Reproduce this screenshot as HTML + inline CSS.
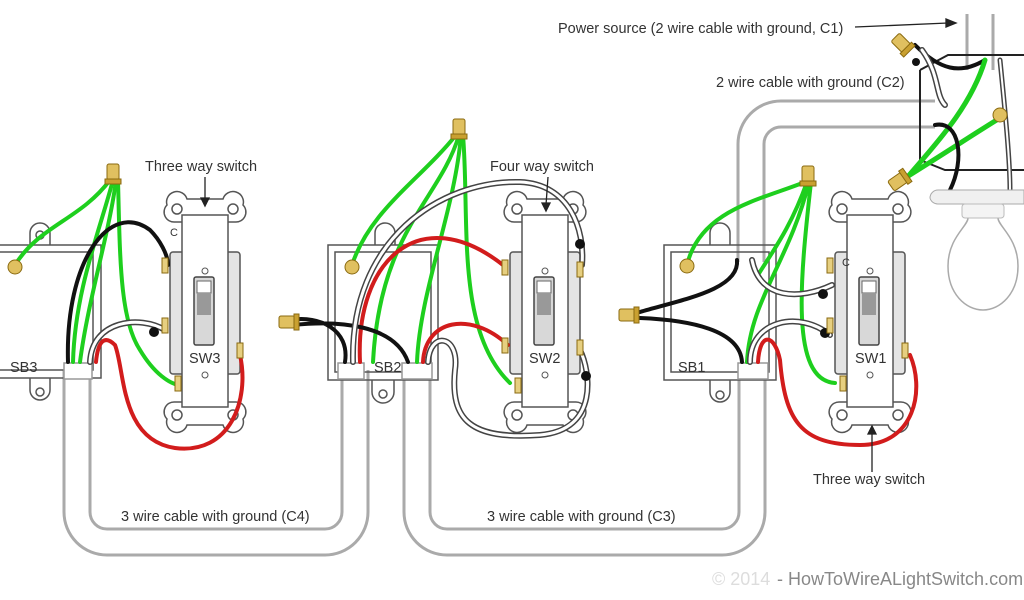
<!DOCTYPE html>
<html><head><meta charset="utf-8"><style>
html,body{margin:0;padding:0;background:#fff}
svg{display:block}
text{font-family:"Liberation Sans",sans-serif;fill:#333}
</style></head><body>
<svg width="1024" height="600" viewBox="0 0 1024 600" xmlns="http://www.w3.org/2000/svg">
<defs>
<g id="sw">
  <path d="M2,8 a10,10 0 0 1 20,-6 h36 a10,10 0 0 1 20,6 a10,10 0 0 1 -8,17 h-60 a10,10 0 0 1 -8,-17z" fill="#fff" stroke="#555" stroke-width="1.5"/>
  <circle cx="12" cy="12" r="5" fill="#fff" stroke="#555" stroke-width="1.5"/>
  <circle cx="68" cy="12" r="5" fill="#fff" stroke="#555" stroke-width="1.5"/>
  <path d="M2,222 a10,10 0 0 0 20,6 h36 a10,10 0 0 0 20,-6 a10,10 0 0 0 -8,-17 h-60 a10,10 0 0 0 -8,17z" fill="#fff" stroke="#555" stroke-width="1.5"/>
  <circle cx="12" cy="218" r="5" fill="#fff" stroke="#555" stroke-width="1.5"/>
  <circle cx="68" cy="218" r="5" fill="#fff" stroke="#555" stroke-width="1.5"/>
  <rect x="5" y="55" width="70" height="122" rx="3" fill="#e4e4e4" stroke="#555" stroke-width="1.5"/>
  <rect x="17" y="18" width="46" height="192" fill="#fff" stroke="#555" stroke-width="1.5"/>
  <circle cx="40" cy="74" r="3" fill="#fff" stroke="#555"/>
  <circle cx="40" cy="178" r="3" fill="#fff" stroke="#555"/>
  <rect x="29" y="80" width="20" height="68" rx="2" fill="#d8d8d8" stroke="#444" stroke-width="1.5"/>
  <rect x="32" y="84" width="14" height="12" fill="#fff" stroke="#666"/>
  <rect x="32" y="96" width="14" height="22" fill="#999"/>
</g>
<g id="nut"><rect x="-6" y="-11" width="12" height="16" rx="2" fill="#e0c060" stroke="#8a6a10"/><rect x="-8" y="4" width="16" height="5" fill="#c9a030" stroke="#8a6a10"/></g>
</defs>

<!-- cables -->
<g fill="none" stroke-linejoin="round">
  <path d="M77,370 V512 a30,30 0 0 0 30,30 H325 a30,30 0 0 0 30,-30 V370" stroke="#aaa" stroke-width="29"/>
  <path d="M77,370 V512 a30,30 0 0 0 30,30 H325 a30,30 0 0 0 30,-30 V370" stroke="#fff" stroke-width="23"/>
  <path d="M417,370 V512 a30,30 0 0 0 30,30 H722 a30,30 0 0 0 30,-30 V370" stroke="#aaa" stroke-width="29"/>
  <path d="M417,370 V512 a30,30 0 0 0 30,30 H722 a30,30 0 0 0 30,-30 V370" stroke="#fff" stroke-width="23"/>
  <path d="M751,262 V144 a30,30 0 0 1 30,-30 H935" stroke="#aaa" stroke-width="29"/>
  <path d="M751,262 V144 a30,30 0 0 1 30,-30 H935" stroke="#fff" stroke-width="23"/>
  <path d="M980,14 V70" stroke="#aaa" stroke-width="29"/>
  <path d="M980,14 V70" stroke="#fff" stroke-width="23"/>
</g>

<!-- boxes -->
<g fill="none" stroke="#555" stroke-width="1.5">
  <path d="M30,245 v-12 a10,10 0 0 1 20,0 v12" fill="#fff"/>
  <path d="M30,378 v12 a10,10 0 0 0 20,0 v-12" fill="#fff"/><circle cx="40" cy="392" r="4"/><circle cx="40" cy="235" r="4"/>
  <rect x="-5" y="245" width="106" height="133"/><rect x="-5" y="252" width="98" height="118"/>
  <path d="M375,245 v-12 a10,10 0 0 1 20,0 v12" fill="#fff"/>
  <path d="M372,380 v12 a11,11 0 0 0 22,0 v-12" fill="#fff"/><circle cx="383" cy="394" r="4"/>
  <rect x="328" y="245" width="110" height="135"/><rect x="335" y="252" width="96" height="120"/>
  <path d="M710,245 v-12 a10,10 0 0 1 20,0 v12" fill="#fff"/>
  <path d="M710,380 v12 a10,10 0 0 0 20,0 v-12" fill="#fff"/><circle cx="720" cy="395" r="4"/>
  <rect x="664" y="245" width="112" height="135"/><rect x="671" y="252" width="98" height="120"/>
  <path d="M920,70 L948,55 H1024 M920,70 V160 L945,170 H1024" stroke="#222" stroke-width="2"/>
</g>
<g fill="#fff" stroke="#999" stroke-width="1.5">
  <rect x="64" y="363" width="28" height="16"/><rect x="338" y="363" width="26" height="16"/><rect x="402" y="363" width="30" height="16"/><rect x="738" y="363" width="30" height="16"/>
</g>

<!-- switches -->
<use href="#sw" x="165" y="197"/>
<use href="#sw" x="505" y="197"/>
<use href="#sw" x="830" y="197"/>

<!-- wires -->
<g fill="none" stroke-linecap="round" stroke-width="4">
  <path d="M110,180 C80,220 40,225 15,265" stroke="#1ecf1e"/>
  <path d="M113,180 C100,230 75,290 73,362" stroke="#1ecf1e"/>
  <path d="M116,180 C110,230 88,300 80,362" stroke="#1ecf1e"/>
  <path d="M118,180 C120,260 120,320 140,350 C155,375 170,383 178,385" stroke="#1ecf1e"/>
  <path d="M68,362 C65,260 110,200 150,230 C160,240 168,255 168,265" stroke="#111"/>
  <path d="M90,362 C92,320 140,315 165,330" stroke="#444" stroke-width="6"/>
  <path d="M90,362 C92,320 140,315 165,330" stroke="#fff" stroke-width="3"/>
  <path d="M96,362 C98,340 105,335 115,345 C125,370 120,440 175,448 C230,455 250,400 240,355" stroke="#d21c1c"/>
  <path d="M456,135 C420,180 370,210 352,265" stroke="#1ecf1e"/>
  <path d="M459,135 C440,200 380,230 373,362" stroke="#1ecf1e"/>
  <path d="M461,135 C455,210 420,290 417,362" stroke="#1ecf1e"/>
  <path d="M463,135 C470,220 455,330 510,383" stroke="#1ecf1e"/>
  <path d="M360,362 C355,260 420,200 503,265" stroke="#d21c1c"/>
  <path d="M423,362 C425,320 470,310 508,345" stroke="#d21c1c"/>
  <path d="M290,320 C320,315 350,330 345,362 M293,325 C340,320 395,325 408,362" stroke="#111"/>
  <path d="M353,362 C350,240 440,180 520,182 C570,184 585,230 582,265" stroke="#444" stroke-width="6"/>
  <path d="M353,362 C350,240 440,180 520,182 C570,184 585,230 582,265" stroke="#fff" stroke-width="3"/>
  <path d="M428,362 C430,330 460,335 455,370 C450,420 470,440 540,435 C600,430 590,370 580,350" stroke="#444" stroke-width="6"/>
  <path d="M428,362 C430,330 460,335 455,370 C450,420 470,440 540,435 C600,430 590,370 580,350" stroke="#fff" stroke-width="3"/>
  <path d="M805,182 C760,200 700,210 687,265" stroke="#1ecf1e"/>
  <path d="M807,182 C790,230 770,255 758,275" stroke="#1ecf1e"/>
  <path d="M809,182 C790,260 750,300 747,362" stroke="#1ecf1e"/>
  <path d="M811,182 C800,280 790,380 835,383" stroke="#1ecf1e"/>
  <path d="M640,312 C680,300 740,290 737,260 M640,318 C690,320 740,330 742,362" stroke="#111"/>
  <path d="M752,260 C760,300 800,300 832,285" stroke="#444" stroke-width="6"/>
  <path d="M752,260 C760,300 800,300 832,285" stroke="#fff" stroke-width="3"/>
  <path d="M750,362 C750,320 800,310 830,335" stroke="#444" stroke-width="6"/>
  <path d="M750,362 C750,320 800,310 830,335" stroke="#fff" stroke-width="3"/>
  <path d="M758,362 C760,330 775,335 780,360 C785,420 800,445 860,445 C915,445 925,390 910,355" stroke="#d21c1c"/>
  <path d="M915,45 C940,70 960,75 985,60" stroke="#111"/>
  <path d="M922,50 C940,75 935,95 945,105" stroke="#444" stroke-width="6"/>
  <path d="M922,50 C940,75 935,95 945,105" stroke="#fff" stroke-width="3"/>
  <path d="M985,60 C970,110 930,150 905,180" stroke="#1ecf1e" stroke-width="5"/>
  <path d="M905,178 C950,150 980,130 1000,118" stroke="#1ecf1e" stroke-width="5"/>
  <path d="M935,125 C960,120 965,160 950,190" stroke="#111"/>
  <path d="M1000,60 C1005,110 1010,160 1010,190" stroke="#444" stroke-width="5"/>
  <path d="M1000,60 C1005,110 1010,160 1010,190" stroke="#fff" stroke-width="2"/>
</g>
<g fill="#111"><circle cx="154" cy="332" r="5"/><circle cx="580" cy="244" r="5"/><circle cx="586" cy="376" r="5"/><circle cx="823" cy="294" r="5"/><circle cx="825" cy="333" r="5"/><circle cx="916" cy="62" r="4"/></g>

<g fill="#e6cf80" stroke="#8a6a10">
  <rect x="162" y="258" width="6" height="15"/><rect x="162" y="318" width="6" height="15"/><rect x="175" y="376" width="6" height="15"/><rect x="237" y="343" width="6" height="15"/>
  <rect x="502" y="260" width="6" height="15"/><rect x="502" y="338" width="6" height="15"/><rect x="515" y="378" width="6" height="15"/><rect x="577" y="262" width="6" height="15"/><rect x="577" y="340" width="6" height="15"/>
  <rect x="827" y="258" width="6" height="15"/><rect x="827" y="318" width="6" height="15"/><rect x="840" y="376" width="6" height="15"/><rect x="902" y="343" width="6" height="15"/>
</g>
<g fill="#e0c060" stroke="#8a6a10"><circle cx="15" cy="267" r="7"/><circle cx="352" cy="267" r="7"/><circle cx="687" cy="266" r="7"/><circle cx="1000" cy="115" r="7"/></g>
<use href="#nut" x="113" y="175"/>
<use href="#nut" x="459" y="130"/>
<use href="#nut" x="808" y="177"/>
<use href="#nut" transform="translate(290,322) rotate(-90)"/>
<use href="#nut" transform="translate(630,315) rotate(-90)"/>
<use href="#nut" transform="translate(903,45) rotate(-45)"/>
<use href="#nut" transform="translate(900,180) rotate(-125)"/>

<!-- lamp -->
<path d="M968,202 h30 v16 c0,8 20,20 20,48 c0,28 -18,44 -35,44 c-17,0 -35,-16 -35,-44 c0,-28 20,-40 20,-48z" fill="#fff" stroke="#aaa" stroke-width="1.5"/>
<path d="M930,198 a8,8 0 0 1 8,-8 h86 v14 h-86 a8,8 0 0 1 -8,-6z" fill="#f0f0f0" stroke="#aaa"/>
<rect x="962" y="204" width="42" height="14" rx="3" fill="#f4f4f4" stroke="#bbb"/>

<g font-size="14.5">
  <text x="145" y="171">Three way switch</text>
  <text x="490" y="171">Four way switch</text>
  <text x="558" y="33">Power source (2 wire cable with ground, C1)</text>
  <text x="716" y="87">2 wire cable with ground (C2)</text>
  <text x="10" y="372">SB3</text><text x="374" y="372">SB2</text><text x="678" y="372">SB1</text>
  <text x="189" y="363">SW3</text><text x="529" y="363">SW2</text><text x="855" y="363">SW1</text>
  <text x="121" y="521">3 wire cable with ground (C4)</text>
  <text x="487" y="521">3 wire cable with ground (C3)</text>
  <text x="813" y="484">Three way switch</text>
  <text x="170" y="236" font-size="11">C</text><text x="842" y="266" font-size="11">C</text>
  <text x="712" y="585" font-size="18" style="fill:#ddd">© 2014</text>
  <text x="777" y="585" font-size="18" style="fill:#888">- HowToWireALightSwitch.com</text>
</g>
<g stroke="#222" stroke-width="1.3" fill="#222">
  <line x1="205" y1="177" x2="205" y2="200"/><path d="M201,198 h8 l-4,8z"/>
  <line x1="548" y1="177" x2="546" y2="205"/><path d="M542,203 h8 l-4,8z"/>
  <line x1="855" y1="27" x2="948" y2="23"/><path d="M946,19 l10,4 l-10,4z"/>
  <line x1="872" y1="472" x2="872" y2="432"/><path d="M868,434 h8 l-4,-8z"/>
</g>
</svg>
</body></html>
